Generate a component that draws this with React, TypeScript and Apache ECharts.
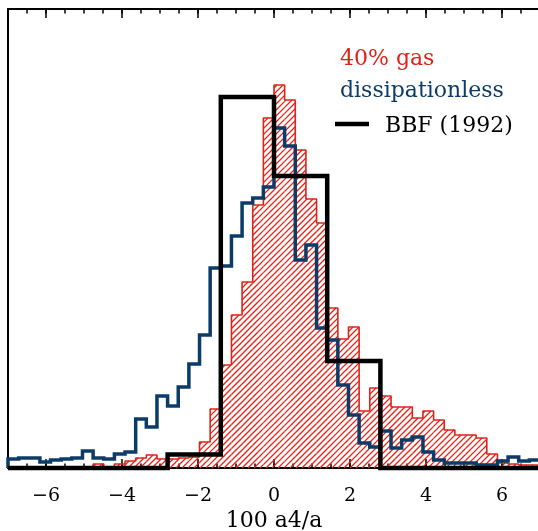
import React, { useEffect, useRef } from "react";
import * as echarts from "echarts";

// Histogram binning (fine bins for the simulations)
const binStart = -7;
const binWidth = 0.28;

// 40% gas merger remnants (arbitrary units)
const gasCounts = [
  0, 0, 0, 0, 0, 0, 0, 0, 4, 0,
  4, 7, 10, 13, 9, 9, 10, 11, 26, 59,
  103, 153, 186, 263, 350, 383, 368, 318, 269, 245,
  160, 129, 141, 57, 80, 72, 61, 61, 50, 57,
  48, 38, 33, 33, 30, 14, 5, 4, 3, 3,
];

// dissipationless merger remnants (arbitrary units)
const dissCounts = [
  9, 10, 10, 6, 8, 9, 10, 17, 10, 9,
  14, 16, 49, 41, 72, 62, 81, 104, 133, 200,
  202, 232, 265, 270, 281, 340, 322, 208, 223, 140,
  128, 83, 53, 25, 21, 37, 20, 28, 31, 16,
  8, 5, 5, 5, 3, 3, 7, 11, 7, 8,
];

// BBF (1992) observed distribution, coarse bins
const bbfEdges = [-7, -5.6, -4.2, -2.8, -1.4, 0, 1.4, 2.8, 4.2, 5.6, 7];
const bbfCounts = [0, 0, 0, 13.5, 371, 292, 107, 0, 0, 0];

const majorTicks = [-6, -4, -2, 0, 2, 4, 6];
const minorTicks = [
  -6.5, -6, -5.5, -5, -4.5, -4, -3.5, -3, -2.5, -2, -1.5, -1, -0.5, 0,
  0.5, 1, 1.5, 2, 2.5, 3, 3.5, 4, 4.5, 5, 5.5, 6, 6.5,
];

const xMin = -7;
const xMax = 7;
const yMax = 459;

const GRID = { left: 8, top: 9, width: 532, height: 459 };

const RED = "#dd2418";
const BLUE = "#0b3c69";
const FONT = '"DejaVu Serif", serif';

function fineEdges(n: number): number[] {
  const e: number[] = [];
  for (let i = 0; i <= n; i++) e.push(+(binStart + i * binWidth).toFixed(4));
  return e;
}

function stepPoints(edges: number[], counts: number[]): number[][] {
  const pts: number[][] = [[edges[0], 0]];
  for (let i = 0; i < counts.length; i++) {
    pts.push([edges[i], counts[i]]);
    pts.push([edges[i + 1], counts[i]]);
  }
  pts.push([edges[counts.length], 0]);
  return pts;
}

// Diagonal hatch segments (in data units) inside each histogram bar,
// aligned on a common family of 45-degree lines.
function hatchSegments(edges: number[], counts: number[], spacingPx: number) {
  const sx = GRID.width / (xMax - xMin); // px per x unit
  const sy = GRID.height / yMax; // px per y unit
  const segs: { coords: number[][] }[] = [];
  for (let i = 0; i < counts.length; i++) {
    const H = counts[i] * sy;
    if (H <= 0) continue;
    const u0 = (edges[i] - xMin) * sx;
    const u1 = (edges[i + 1] - xMin) * sx;
    const dStart = Math.floor((u0 - H) / spacingPx) * spacingPx;
    for (let d = dStart; d <= u1; d += spacingPx) {
      const ua = Math.max(u0, d);
      const ub = Math.min(u1, d + H);
      if (ub - ua > 0.05) {
        segs.push({
          coords: [
            [xMin + ua / sx, (ua - d) / sy],
            [xMin + ub / sx, (ub - d) / sy],
          ],
        });
      }
    }
  }
  return segs;
}

export default function App() {
  const ref = useRef<HTMLDivElement>(null);

  useEffect(() => {
    if (!ref.current) return;
    const chart = echarts.init(ref.current, null, { renderer: "svg" });

    const fe = fineEdges(gasCounts.length);

    const xCommon = {
      type: "value",
      min: xMin,
      max: xMax,
      gridIndex: 0,
      splitLine: { show: false },
    };

    const option: any = {
      animation: false,
      textStyle: { fontFamily: FONT },
      grid: { ...GRID, containLabel: false, outerBoundsMode: "none" },
      xAxis: [
        {
          ...xCommon,
          position: "bottom",
          axisLine: { show: true, onZero: false, lineStyle: { color: "#000", width: 2 } },
          axisTick: {
            show: true,
            inside: true,
            length: 9,
            customValues: majorTicks,
            lineStyle: { color: "#000", width: 1.5 },
          },
          axisLabel: {
            show: true,
            customValues: majorTicks,
            margin: 16,
            color: "#000",
            fontSize: 19,
            fontFamily: FONT,
            formatter: (v: number) => String(v).replace("-", "\u2212"),
          },
          name: "100 a4/a",
          nameLocation: "middle",
          nameGap: 40,
          nameTextStyle: { color: "#000", fontSize: 22, fontFamily: FONT },
        },
        {
          ...xCommon,
          position: "bottom",
          axisLine: { show: false, onZero: false },
          axisTick: {
            show: true,
            inside: true,
            length: 4.5,
            customValues: minorTicks,
            lineStyle: { color: "#000", width: 1.5 },
          },
          axisLabel: { show: false },
        },
        {
          ...xCommon,
          position: "top",
          axisLine: { show: true, onZero: false, lineStyle: { color: "#000", width: 2 } },
          axisTick: {
            show: true,
            inside: true,
            length: 9,
            customValues: majorTicks,
            lineStyle: { color: "#000", width: 1.5 },
          },
          axisLabel: { show: false },
        },
        {
          ...xCommon,
          position: "top",
          axisLine: { show: false, onZero: false },
          axisTick: {
            show: true,
            inside: true,
            length: 4.5,
            customValues: minorTicks,
            lineStyle: { color: "#000", width: 1.5 },
          },
          axisLabel: { show: false },
        },
      ],
      yAxis: [
        {
          type: "value",
          min: 0,
          max: yMax,
          position: "left",
          axisLine: { show: true, onZero: false, lineStyle: { color: "#000", width: 2 } },
          axisTick: { show: false },
          axisLabel: { show: false },
          splitLine: { show: false },
        },
        {
          type: "value",
          min: 0,
          max: yMax,
          position: "right",
          axisLine: { show: true, onZero: false, lineStyle: { color: "#000", width: 2 } },
          axisTick: { show: false },
          axisLabel: { show: false },
          splitLine: { show: false },
        },
      ],
      series: [
        {
          type: "lines",
          name: "hatch",
          coordinateSystem: "cartesian2d",
          xAxisIndex: 0,
          yAxisIndex: 0,
          z: 1,
          silent: true,
          polyline: false,
          lineStyle: { color: RED, width: 1.3, opacity: 1 },
          data: hatchSegments(fe, gasCounts, 6),
        },
        {
          type: "line",
          name: "40% gas",
          z: 2,
          clip: false,
          symbol: "none",
          data: stepPoints(fe, gasCounts),
          lineStyle: { color: RED, width: 1.6 },
        },
        {
          type: "line",
          name: "dissipationless",
          z: 3,
          clip: false,
          symbol: "none",
          data: stepPoints(fe, dissCounts),
          lineStyle: { color: BLUE, width: 3.5, join: "miter" },
        },
        {
          type: "line",
          name: "BBF (1992)",
          z: 4,
          clip: false,
          symbol: "none",
          data: stepPoints(bbfEdges, bbfCounts),
          lineStyle: { color: "#000", width: 4.5, join: "miter" },
        },
      ],
      graphic: [
        {
          type: "text",
          x: 340,
          y: 57,
          style: {
            text: "40% gas",
            fill: RED,
            font: `22px ${FONT}`,
            verticalAlign: "middle",
            align: "left",
          },
        },
        {
          type: "text",
          x: 340,
          y: 89,
          style: {
            text: "dissipationless",
            fill: BLUE,
            font: `22px ${FONT}`,
            verticalAlign: "middle",
            align: "left",
          },
        },
        {
          type: "line",
          shape: { x1: 335, y1: 124, x2: 369, y2: 124 },
          style: { stroke: "#000", lineWidth: 4.5 },
        },
        {
          type: "text",
          x: 385,
          y: 124,
          style: {
            text: "BBF (1992)",
            fill: "#000",
            font: `22px ${FONT}`,
            verticalAlign: "middle",
            align: "left",
          },
        },
      ],
    };

    chart.setOption(option);
    return () => chart.dispose();
  }, []);

  return (
    <div
      ref={ref}
      style={{ position: "fixed", left: 0, top: 0, width: 538, height: 531 }}
    />
  );
}
